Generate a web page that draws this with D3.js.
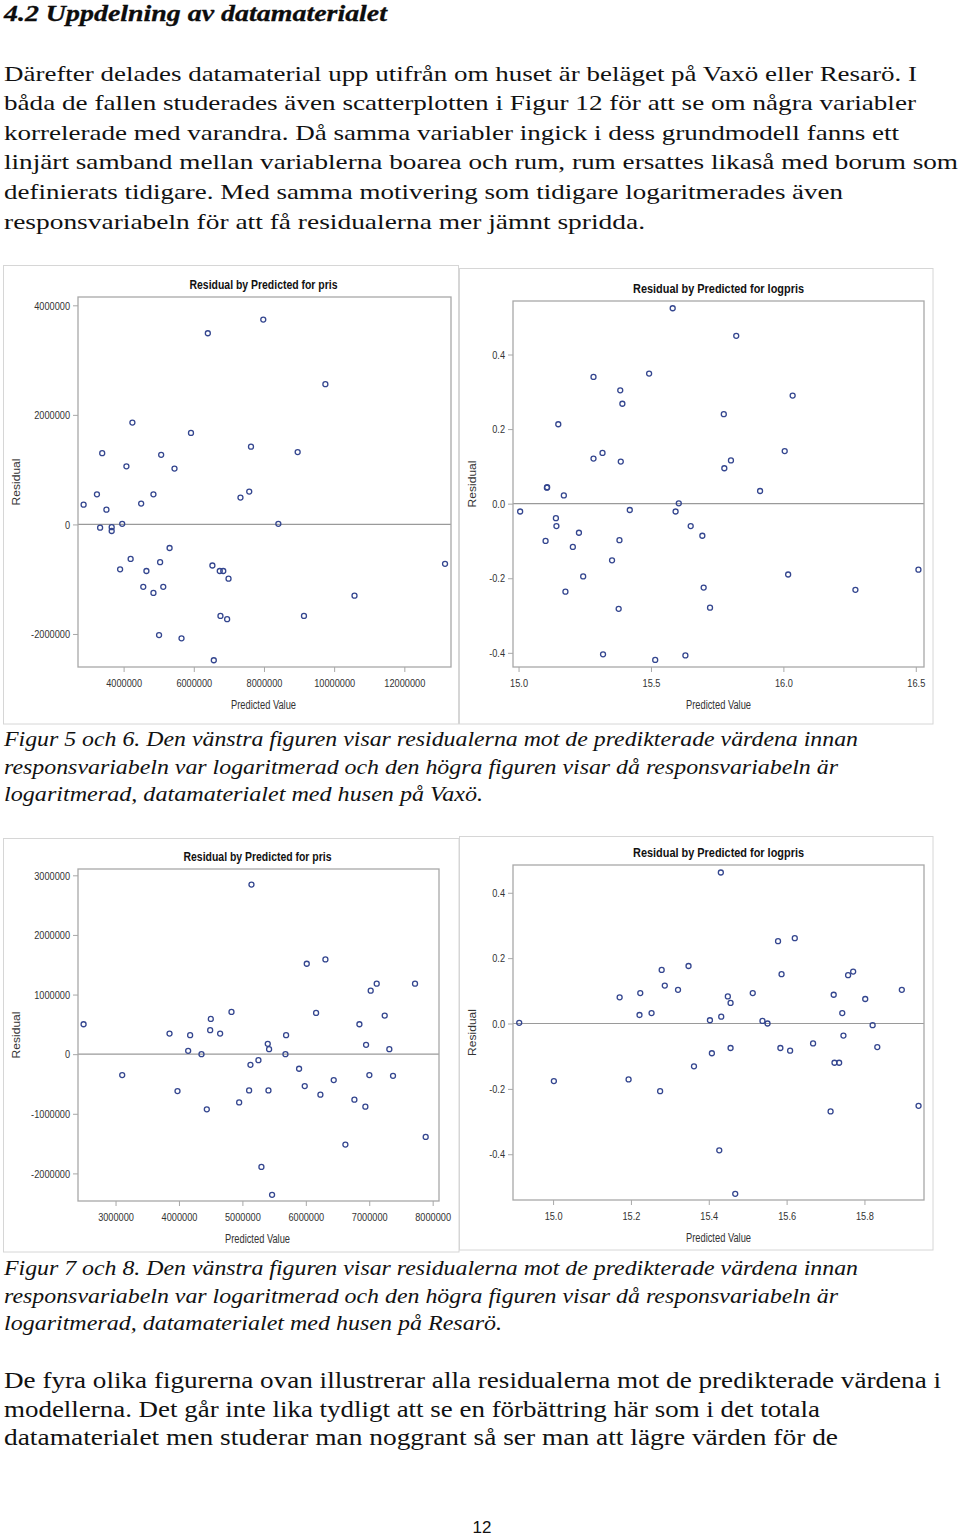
<!DOCTYPE html>
<html><head><meta charset="utf-8">
<script src="https://cdn.jsdelivr.net/npm/d3@7"></script>
<style>body{margin:0;background:#fff}svg{display:block}</style>
</head><body>
<svg id="page" width="960" height="1539"></svg>
<script>
// ---------- text content ----------
const headingText = "4.2 Uppdelning av datamaterialet";
const bodyLines = [
  "Därefter delades datamaterial upp utifrån om huset är beläget på Vaxö eller Resarö. I",
  "båda de fallen studerades även scatterplotten i Figur 12 för att se om några variabler",
  "korrelerade med varandra. Då samma variabler ingick i dess grundmodell fanns ett",
  "linjärt samband mellan variablerna boarea och rum, rum ersattes likaså med borum som",
  "definierats tidigare. Med samma motivering som tidigare logaritmerades även",
  "responsvariabeln för att få residualerna mer jämnt spridda."
];
const caption1Lines = [
  "Figur 5 och 6. Den vänstra figuren visar residualerna mot de predikterade värdena innan",
  "responsvariabeln var logaritmerad och den högra figuren visar då responsvariabeln är",
  "logaritmerad, datamaterialet med husen på Vaxö."
];
const caption2Lines = [
  "Figur 7 och 8. Den vänstra figuren visar residualerna mot de predikterade värdena innan",
  "responsvariabeln var logaritmerad och den högra figuren visar då responsvariabeln är",
  "logaritmerad, datamaterialet med husen på Resarö."
];
const finalLines = [
  "De fyra olika figurerna ovan illustrerar alla residualerna mot de predikterade värdena i",
  "modellerna. Det går inte lika tydligt att se en förbättring här som i det totala",
  "datamaterialet men studerar man noggrant så ser man att lägre värden för de"
];
const pageNumber = "12";
const chartTitles = ["Residual by Predicted for pris", "Residual by Predicted for logpris",
                     "Residual by Predicted for pris", "Residual by Predicted for logpris"];
const xAxisLabel = "Predicted Value";
const yAxisLabel = "Residual";

// ---------- data ----------
// Figur 5: Vaxö, pris
const vaxoPrisPred = [2860000,3240000,3390000,3330000,3510000,3660000,3660000,3960000,3900000,4080000,
  4200000,4250000,4500000,4560000,4650000,4850000,4850000,5010000,5040000,5070000,5130000,5310000,
  5450000,5650000,5920000,6400000,6530000,6570000,6740000,6840000,6760000,6950000,6990000,7330000,
  7580000,7630000,7980000,8410000,8960000,9140000,9750000,10580000,13160000];
const vaxoPrisResid = [360000,550000,1300000,-60000,270000,-50000,-120000,10000,-820000,1060000,
  -630000,1860000,380000,-1140000,-850000,550000,-1250000,-2020000,-690000,1270000,-1140000,-430000,
  1020000,-2080000,1670000,3490000,-750000,-2480000,-850000,-850000,-1670000,-1730000,-990000,490000,
  600000,1420000,3740000,10000,1320000,-1670000,2560000,-1300000,-720000];
// Figur 6: Vaxö, logpris
const vaxoLogPred = [15.006,15.102,15.107,15.108,15.141,15.143,15.150,15.171,15.177,15.205,15.228,15.244,
  15.283,15.283,15.317,15.319,15.353,15.378,15.381,15.384,15.386,15.392,15.420,15.493,15.516,15.582,
  15.593,15.605,15.630,15.650,15.694,15.699,15.723,15.775,15.777,15.802,15.822,15.912,16.005,16.018,
  16.035,16.272,16.510];
const vaxoLogResid = [-0.021,-0.100,0.043,0.044,-0.039,-0.060,0.213,0.022,-0.236,-0.116,-0.078,-0.195,
  0.340,0.121,0.136,-0.404,-0.152,-0.282,-0.098,0.304,0.113,0.268,-0.017,0.349,-0.419,0.524,
  -0.021,0.001,-0.407,-0.060,-0.086,-0.225,-0.279,0.240,0.095,0.116,0.450,0.034,0.141,-0.190,
  0.290,-0.231,-0.177];
// Figur 7: Resarö, pris
const resaroPrisPred = [2496000,3105000,3851000,3977000,4145000,4176000,4355000,4439000,4492000,4502000,
  4649000,4828000,4949000,5106000,5127000,5143000,5253000,5300000,5400000,5411000,5421000,5468000,
  5679000,5689000,5894000,5983000,6015000,6162000,6230000,6309000,6440000,6624000,6766000,6845000,
  6939000,6950000,7002000,7023000,7118000,7244000,7317000,7375000,7722000,7890000];
const resaroPrisResid = [502000,-351000,346000,-619000,56000,318000,0,-926000,402000,591000,
  346000,708000,-809000,-608000,-178000,2844000,-100000,-1891000,173000,-608000,84000,-2359000,
  0,318000,-245000,-536000,1517000,692000,-680000,1590000,-435000,-1517000,-764000,502000,
  -881000,156000,-351000,1065000,1182000,647000,84000,-363000,1182000,-1389000];
// Figur 8: Resarö, logpris
const resaroLogPred = [14.913,15.002,15.171,15.194,15.222,15.224,15.253,15.275,15.279,15.287,15.321,
  15.348,15.362,15.403,15.408,15.427,15.431,15.432,15.449,15.456,15.456,15.468,15.513,15.538,15.551,
  15.578,15.584,15.587,15.609,15.621,15.668,15.713,15.721,15.723,15.735,15.743,15.746,15.758,15.771,
  15.802,15.821,15.833,15.896,15.939];
const resaroLogResid = [0.002,-0.176,0.080,-0.171,0.026,0.093,0.032,-0.207,0.164,0.116,0.103,
  0.176,-0.131,0.010,-0.091,-0.388,0.462,0.021,0.083,0.063,-0.075,-0.521,0.093,0.008,0.000,
  0.252,-0.075,0.151,-0.083,0.261,-0.061,-0.269,0.088,-0.120,-0.120,0.032,-0.037,0.148,0.159,
  0.075,-0.005,-0.072,0.103,-0.252];

// ---------- tick values ----------
const vaxoPrisXTicks = [4000000, 6000000, 8000000, 10000000, 12000000];
const vaxoPrisYTicks = [-2000000, 0, 2000000, 4000000];
const vaxoLogXTicks = [15.0, 15.5, 16.0, 16.5];
const logYTicks = [-0.4, -0.2, 0.0, 0.2, 0.4];
const resaroPrisXTicks = [3000000, 4000000, 5000000, 6000000, 7000000, 8000000];
const resaroPrisYTicks = [-2000000, -1000000, 0, 1000000, 2000000, 3000000];
const resaroLogXTicks = [15.0, 15.2, 15.4, 15.6, 15.8];

// ---------- layout ----------
const svg = d3.select("#page");
svg.append("rect").attr("width", 960).attr("height", 1539).attr("fill", "#fff");

const loc = d3.formatLocale({decimal: ".", thousands: ",", grouping: [3], currency: ["", ""], minus: "-"});
const fmtInt = loc.format("d");
const fmt1 = loc.format(".1f");

function fitWidth(sel, w) {
  sel.attr("textLength", w).attr("lengthAdjust", "spacingAndGlyphs");
}
function condense(sel, f) {
  sel.each(function () {
    const L = this.getComputedTextLength();
    d3.select(this).attr("textLength", L * f).attr("lengthAdjust", "spacingAndGlyphs");
  });
}

// heading
svg.append("text").attr("x", 4).attr("y", 21)
  .attr("font-family", "Liberation Serif").attr("font-size", 24)
  .attr("font-weight", "bold").attr("font-style", "italic").attr("fill", "#0d0d0d")
  .attr("stroke", "#0d0d0d").attr("stroke-width", 0.3)
  .text(headingText).call(fitWidth, 383);

function paragraph(lines, y0, step, widths, opts) {
  lines.forEach((t, i) => {
    svg.append("text").attr("x", 4).attr("y", y0 + i * step)
      .attr("font-family", "Liberation Serif").attr("font-size", opts.size)
      .attr("font-style", opts.italic ? "italic" : "normal").attr("fill", "#111")
      .text(t).call(fitWidth, widths[i]);
  });
}
paragraph(bodyLines, 80.5, 29.6, [913, 912, 895, 954, 839, 641], {size: 22});
paragraph(caption1Lines, 746, 27.5, [854, 834, 479], {size: 21, italic: true});
paragraph(caption2Lines, 1275, 27.5, [854, 834, 498], {size: 21, italic: true});
paragraph(finalLines, 1388, 28.5, [937, 816, 834], {size: 22.5});

svg.append("text").attr("x", 482).attr("y", 1533).attr("text-anchor", "middle")
  .attr("font-family", "Liberation Sans").attr("font-size", 17).attr("fill", "#111")
  .text(pageNumber);

// ---------- scatter panels ----------
const panels = [
  {xs: vaxoPrisPred, ys: vaxoPrisResid, xt: vaxoPrisXTicks, yt: vaxoPrisYTicks, f: fmtInt,
   title: chartTitles[0], box: [3.5, 265.5, 455, 458.5], frame: [78, 297, 451, 667],
   xd: [2700000, 13330000], yd: [-2603000, 4152000], tw: 148},
  {xs: vaxoLogPred, ys: vaxoLogResid, xt: vaxoLogXTicks, yt: logYTicks, f: fmt1,
   title: chartTitles[1], box: [459.5, 268.5, 473.5, 455.5], frame: [513, 301, 924, 667],
   xd: [14.979, 16.531], yd: [-0.438, 0.5435], tw: 171},
  {xs: resaroPrisPred, ys: resaroPrisResid, xt: resaroPrisXTicks, yt: resaroPrisYTicks, f: fmtInt,
   title: chartTitles[2], box: [3.5, 838.5, 455.5, 413.5], frame: [78, 869, 439, 1201],
   xd: [2408000, 8100000], yd: [-2463000, 3106000], tw: 148},
  {xs: resaroLogPred, ys: resaroLogResid, xt: resaroLogXTicks, yt: logYTicks, f: fmt1,
   title: chartTitles[3], box: [459.5, 836.5, 473.5, 413.5], frame: [513, 865, 924, 1200],
   xd: [14.897, 15.953], yd: [-0.540, 0.485], tw: 171}
];

const FRAME = "#a8a8a8", TICKTXT = "#333", MARK = "#34468f";

panels.forEach(p => {
  const [bx, by, bw, bh] = p.box;
  const [fx0, fy0, fx1, fy1] = p.frame;
  const g = svg.append("g");
  g.append("rect").attr("x", bx).attr("y", by).attr("width", bw).attr("height", bh)
    .attr("fill", "#fff").attr("stroke", "#d6d6d6").attr("stroke-width", 1);

  const x = d3.scaleLinear().domain(p.xd).range([fx0, fx1]);
  const y = d3.scaleLinear().domain(p.yd).range([fy1, fy0]);

  // title
  g.append("text").attr("x", (fx0 + fx1) / 2 + (p.tw === 148 ? -1 : 0)).attr("y", fy0 - 8.5)
    .attr("text-anchor", "middle").attr("font-family", "Liberation Sans")
    .attr("font-size", 13.5).attr("font-weight", "bold").attr("fill", "#111")
    .text(p.title).call(fitWidth, p.tw);

  // zero reference line
  g.append("line").attr("x1", fx0).attr("x2", fx1).attr("y1", y(0)).attr("y2", y(0))
    .attr("stroke", "#9a9a9a").attr("stroke-width", 1.2);

  // axes
  const xa = g.append("g").attr("transform", `translate(0,${fy1})`)
    .call(d3.axisBottom(x).tickValues(p.xt).tickFormat(p.f).tickSize(5).tickPadding(6.5));
  const ya = g.append("g").attr("transform", `translate(${fx0},0)`)
    .call(d3.axisLeft(y).tickValues(p.yt).tickFormat(p.f).tickSize(5).tickPadding(3));
  [xa, ya].forEach(a => {
    a.select(".domain").remove();
    a.selectAll(".tick line").attr("stroke", FRAME);
    a.selectAll(".tick text").attr("font-family", "Liberation Sans").attr("font-size", 11.5)
      .attr("fill", TICKTXT).call(condense, 0.8);
  });

  // frame
  g.append("rect").attr("x", fx0).attr("y", fy0).attr("width", fx1 - fx0).attr("height", fy1 - fy0)
    .attr("fill", "none").attr("stroke", FRAME).attr("stroke-width", 1.3);

  // axis labels
  g.append("text").attr("x", (fx0 + fx1) / 2 + (p.tw === 148 ? -1 : 0)).attr("y", fy1 + 41.5)
    .attr("text-anchor", "middle").attr("font-family", "Liberation Sans").attr("font-size", 12)
    .attr("fill", TICKTXT).text(xAxisLabel).call(fitWidth, 65);
  const cy = (fy0 + fy1) / 2;
  g.append("text").attr("transform", `translate(${bx + 16.5},${cy}) rotate(-90)`)
    .attr("text-anchor", "middle").attr("font-family", "Liberation Sans").attr("font-size", 11.5)
    .attr("fill", TICKTXT).text(yAxisLabel).call(fitWidth, 47);

  // points
  g.selectAll("circle.pt").data(p.xs.map((v, i) => [v, p.ys[i]])).join("circle")
    .attr("class", "pt").attr("cx", d => x(d[0])).attr("cy", d => y(d[1])).attr("r", 2.5)
    .attr("fill", "none").attr("stroke", MARK).attr("stroke-width", 1.3);
});
</script>
</body></html>
